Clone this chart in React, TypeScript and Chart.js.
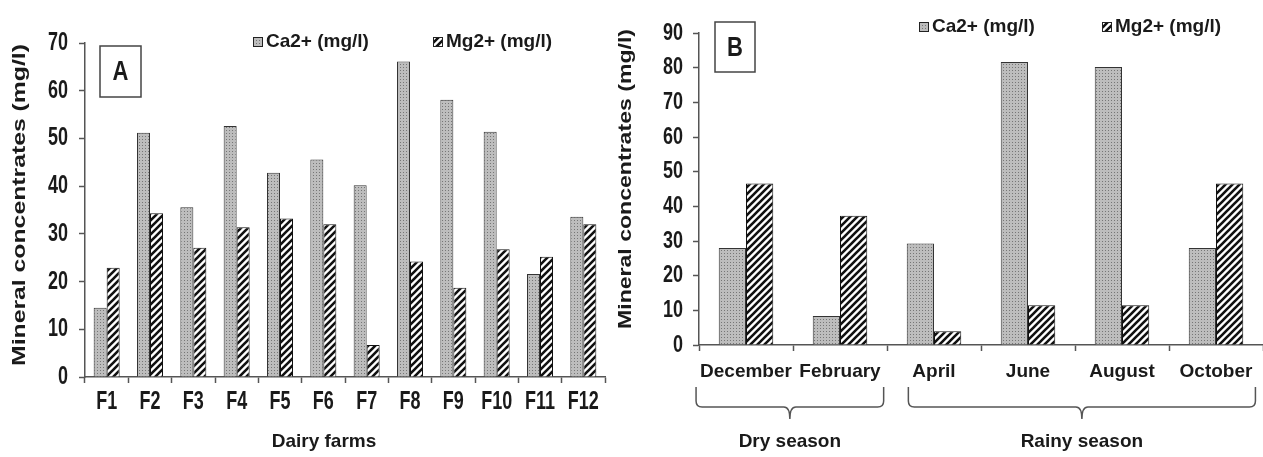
import React, { useEffect, useRef } from 'react';
import { Chart, registerables } from 'chart.js';

Chart.register(...registerables);

// ---------- data ----------
const farmLabels = ['F1', 'F2', 'F3', 'F4', 'F5', 'F6', 'F7', 'F8', 'F9', 'F10', 'F11', 'F12'];
const farmCa = [14.5, 51.2, 35.6, 52.6, 42.8, 45.6, 40.2, 66.1, 58.1, 51.4, 21.6, 33.6];
const farmMg = [22.9, 34.3, 27.1, 31.4, 33.2, 32.0, 6.7, 24.2, 18.7, 26.8, 25.2, 32.0];

const monthLabels = ['December', 'February', 'April', 'June', 'August', 'October'];
const monthCa = [28.0, 8.4, 29.3, 81.6, 80.2, 28.0];
const monthMg = [46.6, 37.3, 4.0, 11.5, 11.5, 46.6];

const seriesNames = ['Ca2+ (mg/l)', 'Mg2+ (mg/l)'];
const yTitle = 'Mineral concentrates (mg/l)';
const xTitleA = 'Dairy farms';
const seasonNames = ['Dry season', 'Rainy season'];
const seasonFrom = [0, 2];
const seasonTo = [1, 5];
const yMaxA = 70;
const yMaxB = 90;
const yStep = 10;

const FONT = '"Liberation Sans", Arial, Helvetica, sans-serif';
const TEXT = '#1a1a1a';
const AXIS = '#555';
const HIDDEN = 'rgba(0,0,0,0)';

function makeDotPattern(ctx: CanvasRenderingContext2D): CanvasPattern {
  const c = document.createElement('canvas');
  c.width = 3;
  c.height = 3;
  const g = c.getContext('2d')!;
  g.fillStyle = '#bdbdbd';
  g.fillRect(0, 0, 3, 3);
  g.fillStyle = '#767676';
  g.fillRect(1, 1, 1, 1);
  return ctx.createPattern(c, 'repeat')!;
}

function makeStripePattern(ctx: CanvasRenderingContext2D): CanvasPattern {
  const s = 7;
  const c = document.createElement('canvas');
  c.width = s;
  c.height = s;
  const g = c.getContext('2d')!;
  g.fillStyle = '#ffffff';
  g.fillRect(0, 0, s, s);
  g.strokeStyle = '#111';
  g.lineWidth = 2.6;
  g.beginPath();
  g.moveTo(-1, s + 1);
  g.lineTo(s + 1, -1);
  g.moveTo(-s / 2 - 1, s / 2 + 1);
  g.lineTo(s / 2 + 1, -s / 2 - 1);
  g.moveTo(s / 2 - 1, s * 1.5 + 1);
  g.lineTo(s * 1.5 + 1, s / 2 - 1);
  g.stroke();
  return ctx.createPattern(c, 'repeat')!;
}

function drawStretchedVertical(ctx: CanvasRenderingContext2D, text: string, cx: number, cy: number, len: number, size: number) {
  ctx.save();
  ctx.font = `bold ${size}px ${FONT}`;
  ctx.fillStyle = TEXT;
  ctx.textAlign = 'center';
  ctx.textBaseline = 'middle';
  const w = ctx.measureText(text).width;
  ctx.translate(cx, cy);
  ctx.rotate(-Math.PI / 2);
  ctx.scale(len / w, 1);
  ctx.fillText(text, 0, 0);
  ctx.restore();
}

// tick text drawn taller than wide, as in the reference
function drawTallText(ctx: CanvasRenderingContext2D, text: string, x: number, y: number, align: CanvasTextAlign, size: number, sy: number) {
  ctx.save();
  ctx.font = `bold ${size}px ${FONT}`;
  ctx.fillStyle = TEXT;
  ctx.textAlign = align;
  ctx.textBaseline = 'middle';
  ctx.translate(x, y);
  ctx.scale(1, sy);
  ctx.fillText(text, 0, 0);
  ctx.restore();
}

function drawLegendItem(ctx: CanvasRenderingContext2D, pattern: CanvasPattern, x: number, y: number, text: string, size: number) {
  ctx.save();
  ctx.fillStyle = pattern;
  ctx.fillRect(x, y - 5, 10, 10);
  ctx.strokeStyle = '#222';
  ctx.lineWidth = 1;
  ctx.strokeRect(x + 0.5, y - 4.5, 9, 9);
  ctx.font = `bold ${size}px ${FONT}`;
  ctx.fillStyle = TEXT;
  ctx.textAlign = 'left';
  ctx.textBaseline = 'middle';
  ctx.fillText(text, x + 13, y);
  ctx.restore();
}

function drawLetterBox(ctx: CanvasRenderingContext2D, x: number, y: number, w: number, h: number, letter: string) {
  ctx.save();
  ctx.strokeStyle = '#444';
  ctx.lineWidth = 1.5;
  ctx.strokeRect(x, y, w, h);
  ctx.font = `bold 22px ${FONT}`;
  ctx.fillStyle = TEXT;
  ctx.textAlign = 'center';
  ctx.textBaseline = 'middle';
  ctx.translate(x + w / 2, y + h / 2 + 1);
  ctx.scale(1, 1.25);
  ctx.fillText(letter, 0, 0);
  ctx.restore();
}

function drawBrace(ctx: CanvasRenderingContext2D, x1: number, x2: number, yTop: number, yMid: number, yTip: number) {
  const r = 6;
  const cx = (x1 + x2) / 2;
  ctx.save();
  ctx.strokeStyle = '#555';
  ctx.lineWidth = 1.5;
  ctx.beginPath();
  ctx.moveTo(x1, yTop);
  ctx.lineTo(x1, yMid - r);
  ctx.quadraticCurveTo(x1, yMid, x1 + r, yMid);
  ctx.lineTo(cx - r, yMid);
  ctx.quadraticCurveTo(cx, yMid, cx, yTip);
  ctx.moveTo(cx, yTip);
  ctx.quadraticCurveTo(cx, yMid, cx + r, yMid);
  ctx.lineTo(x2 - r, yMid);
  ctx.quadraticCurveTo(x2, yMid, x2, yMid - r);
  ctx.lineTo(x2, yTop);
  ctx.stroke();
  ctx.restore();
}

function axisCommon(tickSize: number, tickColor: string) {
  return {
    grid: {
      display: true,
      drawOnChartArea: false,
      drawTicks: true,
      tickLength: 6,
      tickColor: AXIS,
      tickWidth: 1.5,
      color: AXIS,
    },
    border: { display: true, color: AXIS, width: 1.5 },
    ticks: {
      font: { family: FONT, size: tickSize, weight: 'bold' as const },
      color: tickColor,
    },
  };
}

function makeChart(
  canvas: HTMLCanvasElement,
  labels: string[],
  ca: number[],
  mg: number[],
  yMax: number,
  yWidth: number,
  xHeight: number,
  padTop: number,
  padRight: number,
  catPct: number,
  tickSize: number,
  xPad: number,
  xTickColor: string,
  extra: (chart: Chart, dot: CanvasPattern, stripe: CanvasPattern) => void
) {
  const ctx = canvas.getContext('2d')!;
  const dot = makeDotPattern(ctx);
  const stripe = makeStripePattern(ctx);
  const xc = axisCommon(tickSize, xTickColor);
  const yc = axisCommon(18, HIDDEN);
  return new Chart(canvas, {
    type: 'bar',
    data: {
      labels,
      datasets: [
        {
          label: seriesNames[0],
          data: ca,
          backgroundColor: dot,
          borderColor: '#333',
          borderWidth: 1,
          categoryPercentage: catPct,
          barPercentage: 1.0,
        },
        {
          label: seriesNames[1],
          data: mg,
          backgroundColor: stripe,
          borderColor: '#111',
          borderWidth: 1,
          categoryPercentage: catPct,
          barPercentage: 1.0,
        },
      ],
    },
    options: {
      animation: false,
      responsive: true,
      maintainAspectRatio: false,
      layout: { padding: { top: padTop, right: padRight, left: 0, bottom: 0 } },
      plugins: { legend: { display: false }, tooltip: { enabled: false } },
      scales: {
        x: {
          type: 'category',
          offset: true,
          grid: { ...xc.grid, offset: true },
          border: xc.border,
          ticks: { ...xc.ticks, padding: xPad, maxRotation: 0, autoSkip: false },
          afterFit: (s: any) => {
            s.height = xHeight;
          },
        },
        y: {
          min: 0,
          max: yMax,
          grid: yc.grid,
          border: yc.border,
          ticks: { ...yc.ticks, stepSize: yStep, padding: 10 },
          afterFit: (s: any) => {
            s.width = yWidth;
          },
        },
      },
    },
    plugins: [
      {
        id: 'decorations',
        afterDraw: (chart: Chart) => extra(chart, dot, stripe),
      },
    ],
  } as any);
}

function drawYTicks(chart: Chart, rightX: number, size: number, sy: number) {
  const ys: any = chart.scales.y;
  ys.ticks.forEach((t: any, i: number) => {
    drawTallText(chart.ctx, String(t.value), rightX, ys.getPixelForTick(i), 'right', size, sy);
  });
}

export default function App() {
  const refA = useRef<HTMLCanvasElement>(null);
  const refB = useRef<HTMLCanvasElement>(null);

  useEffect(() => {
    const chartA = makeChart(
      refA.current!,
      farmLabels,
      farmCa,
      farmMg,
      yMaxA,
      85,
      80,
      43,
      10,
      0.6,
      18,
      4,
      HIDDEN,
      (chart, dot, stripe) => {
        const ctx = chart.ctx;
        const a = chart.chartArea;
        const xs: any = chart.scales.x;
        drawYTicks(chart, 68, 18, 1.4);
        farmLabels.forEach((lab, i) => {
          drawTallText(ctx, lab, xs.getPixelForTick(i), 402, 'center', 18, 1.4);
        });
        drawLegendItem(ctx, dot, 253, 42, seriesNames[0], 19);
        drawLegendItem(ctx, stripe, 433, 42, seriesNames[1], 19);
        drawLetterBox(ctx, 100, 46, 41, 51, 'A');
        drawStretchedVertical(ctx, yTitle, 20, (a.top + a.bottom) / 2 - 5, 322, 19);
        ctx.save();
        ctx.font = `bold 19px ${FONT}`;
        ctx.fillStyle = TEXT;
        ctx.textAlign = 'center';
        ctx.textBaseline = 'middle';
        ctx.fillText(xTitleA, 324, 442);
        ctx.restore();
      }
    );

    const chartB = makeChart(
      refB.current!,
      monthLabels,
      monthCa,
      monthMg,
      yMaxB,
      87,
      112,
      33,
      0,
      0.58,
      19,
      9,
      TEXT,
      (chart, dot, stripe) => {
        const ctx = chart.ctx;
        const a = chart.chartArea;
        const xs: any = chart.scales.x;
        drawYTicks(chart, 71, 18, 1.35);
        drawLegendItem(ctx, dot, 307, 27, seriesNames[0], 19);
        drawLegendItem(ctx, stripe, 490, 27, seriesNames[1], 19);
        drawLetterBox(ctx, 103, 22, 40, 50, 'B');
        drawStretchedVertical(ctx, yTitle, 14, (a.top + a.bottom) / 2 - 10, 300, 19);
        ctx.save();
        ctx.font = `bold 19px ${FONT}`;
        for (let i = 0; i < seasonNames.length; i++) {
          const l0 = monthLabels[seasonFrom[i]];
          const l1 = monthLabels[seasonTo[i]];
          const x1 = xs.getPixelForValue(seasonFrom[i]) - ctx.measureText(l0).width / 2 - 4;
          const x2 = xs.getPixelForValue(seasonTo[i]) + ctx.measureText(l1).width / 2 + 3;
          drawBrace(ctx, x1, x2, 387, 407, 419);
          ctx.fillStyle = TEXT;
          ctx.textAlign = 'center';
          ctx.textBaseline = 'middle';
          ctx.fillText(seasonNames[i], (x1 + x2) / 2, 442);
        }
        ctx.restore();
      }
    );

    return () => {
      chartA.destroy();
      chartB.destroy();
    };
  }, []);

  return (
    <div style={{ position: 'absolute', left: 0, top: 0, width: 1263, height: 457, background: '#fff', overflow: 'hidden' }}>
      <div style={{ position: 'absolute', left: 0, top: 0, width: 615, height: 457 }}>
        <canvas ref={refA} />
      </div>
      <div style={{ position: 'absolute', left: 612, top: 0, width: 651, height: 457 }}>
        <canvas ref={refB} />
      </div>
    </div>
  );
}
